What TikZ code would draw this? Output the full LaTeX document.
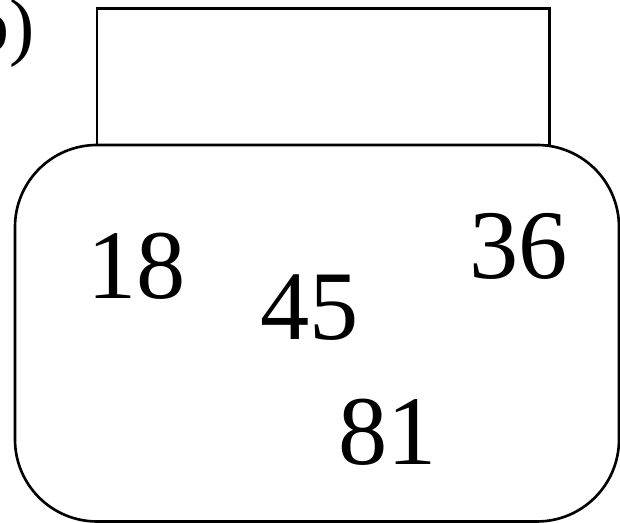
\documentclass[tikz,border=0pt]{standalone}
\usepackage{fontspec}
\setmainfont{Liberation Serif}
\begin{document}
\begin{tikzpicture}[line width=1.5pt,
		num/.style={anchor=base, inner sep=0pt, font=\fontsize{56}{60}\selectfont}]
		\useasboundingbox (0, 0) rectangle (12.4, 10.46);
		% Label
		\node[anchor=base east, inner sep=0pt, font=\fontsize{43}{48}\selectfont] (label) at (0.72, 9.42) {b)};
		
		% Lid
		\draw (1.94, 7.56) rectangle (10.99, 10.29);
		
		% Box
		\draw[rounded corners=1.64cm] (0.3, 7.56) rectangle (12.38, 0.03);
		
		% Numbers
		\node[num] (n18) at (2.73, 4.48) {18};
		\node[num] (n45) at (6.2, 3.66) {45};
		\node[num] (n36) at (10.37, 4.88) {36};
		\node[num] (n81) at (7.76, 1.16) {81};
	\end{tikzpicture}
\end{document}
